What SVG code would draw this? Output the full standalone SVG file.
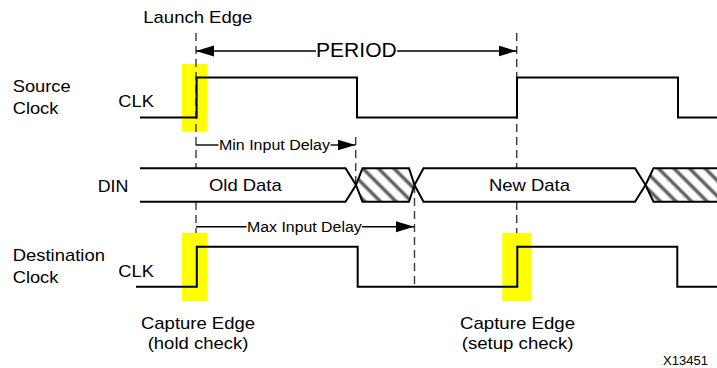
<svg xmlns="http://www.w3.org/2000/svg" width="717" height="368" viewBox="0 0 717 368">
<style>
text{font-family:"Liberation Sans",Arial,sans-serif;fill:#000}
.lbl{font-size:17px}
.sm{font-size:14px}
.sig{fill:none;stroke:#000;stroke-width:2;stroke-linejoin:miter}
.bus{fill:#fff;stroke:#000;stroke-width:2;stroke-linejoin:miter}
.hat{fill:url(#hatch);stroke:#000;stroke-width:2;stroke-linejoin:miter}
.dash{fill:none;stroke:#3a3a3a;stroke-width:1.4;stroke-dasharray:8 5}
.arr{fill:none;stroke:#000;stroke-width:1.4}
.hl{fill:#ffff00}
</style>
<defs>
<marker id="ah" markerUnits="userSpaceOnUse" markerWidth="18" markerHeight="12" refX="18" refY="6" orient="auto-start-reverse">
<path d="M0,0.5 L18,6 L0,11.5 Z" fill="#000"/>
</marker>
<pattern id="hatch" patternUnits="userSpaceOnUse" width="11" height="11" patternTransform="rotate(45)">
<rect width="11" height="11" fill="#fff"/>
<rect y="3" width="11" height="5" fill="#c8c8c8"/>
<rect y="4.3" width="11" height="2.4" fill="#555"/>
</pattern>
</defs>

<g id="highlights">
<rect class="hl" x="181.7" y="64" width="25.3" height="67.7"/>
<rect class="hl" x="182" y="233" width="25" height="68"/>
<rect class="hl" x="502.3" y="233" width="28.7" height="68"/>
</g>

<g id="connectors">
<line class="dash" x1="196" y1="33" x2="196" y2="233"/>
<line class="dash" x1="516.7" y1="33" x2="516.7" y2="233"/>
<line class="dash" x1="355.7" y1="137" x2="355.7" y2="185"/>
<line class="dash" x1="414.5" y1="185" x2="414.5" y2="287"/>
<line class="arr" x1="316" y1="51" x2="196" y2="51" marker-end="url(#ah)"/>
<line class="arr" x1="397" y1="51" x2="516.5" y2="51" marker-end="url(#ah)"/>
<line class="arr" x1="196" y1="145" x2="218.5" y2="145"/>
<line class="arr" x1="330.5" y1="145" x2="355.5" y2="145" marker-end="url(#ah)"/>
<line class="arr" x1="196" y1="226.7" x2="246.5" y2="226.7"/>
<line class="arr" x1="362" y1="226.7" x2="414" y2="226.7" marker-end="url(#ah)"/>
</g>

<g id="din">
<path class="bus" d="M140,168.3 H345.5 L356,185 L345.5,201.7 H140"/>
<path class="hat" d="M362.5,168.3 H409 L414.5,185 L409,201.7 H362.5 L356,185 Z"/>
<path class="bus" d="M423.5,168.3 H635 L645.5,185 L635,201.7 H423.5 L414.5,185 Z"/>
<path class="hat" d="M720,168.3 H653.5 L645.5,185 L653.5,201.7 H720"/>
</g>

<g id="source-clock">
<path class="sig" d="M140,117.6 H196.6 V77.4 H357 V117.6 H517 V77.4 H678 V117.6 H717"/>
</g>

<g id="destination-clock">
<path class="sig" d="M136,286.7 H196.8 V246.7 H357.7 V286.7 H517.3 V246.7 H677.3 V286.7 H717"/>
</g>

<g id="labels">
<text class="lbl" x="143.3" y="22.7" textLength="109" lengthAdjust="spacingAndGlyphs">Launch Edge</text>
<text x="316" y="56.7" font-size="21" textLength="80.7" lengthAdjust="spacingAndGlyphs">PERIOD</text>
<text class="lbl" x="12.7" y="92" textLength="58" lengthAdjust="spacingAndGlyphs">Source</text>
<text class="lbl" x="12.7" y="114" textLength="45.7" lengthAdjust="spacingAndGlyphs">Clock</text>
<text class="lbl" x="118.3" y="106.7" textLength="35.7" lengthAdjust="spacingAndGlyphs">CLK</text>
<text class="sm" x="219" y="150" textLength="111" lengthAdjust="spacingAndGlyphs">Min Input Delay</text>
<text class="lbl" x="97.7" y="192" font-size="18" textLength="30.7" lengthAdjust="spacingAndGlyphs">DIN</text>
<text class="lbl" x="209" y="190.8" textLength="72.7" lengthAdjust="spacingAndGlyphs">Old Data</text>
<text class="lbl" x="489" y="190.8" textLength="81" lengthAdjust="spacingAndGlyphs">New Data</text>
<text class="sm" x="247" y="231.7" textLength="114.7" lengthAdjust="spacingAndGlyphs">Max Input Delay</text>
<text class="lbl" x="12.7" y="260.7" textLength="92.3" lengthAdjust="spacingAndGlyphs">Destination</text>
<text class="lbl" x="12.7" y="283.3" textLength="45.7" lengthAdjust="spacingAndGlyphs">Clock</text>
<text class="lbl" x="118.3" y="276.7" textLength="35.7" lengthAdjust="spacingAndGlyphs">CLK</text>
<text class="lbl" x="141" y="329.3" textLength="114" lengthAdjust="spacingAndGlyphs">Capture Edge</text>
<text class="lbl" x="147.7" y="348.5" textLength="100.7" lengthAdjust="spacingAndGlyphs">(hold check)</text>
<text class="lbl" x="460" y="329.3" textLength="115" lengthAdjust="spacingAndGlyphs">Capture Edge</text>
<text class="lbl" x="461.7" y="348.5" textLength="111.7" lengthAdjust="spacingAndGlyphs">(setup check)</text>
<text x="663" y="364.5" font-size="12.5" textLength="45" lengthAdjust="spacingAndGlyphs">X13451</text>
</g>
</svg>
